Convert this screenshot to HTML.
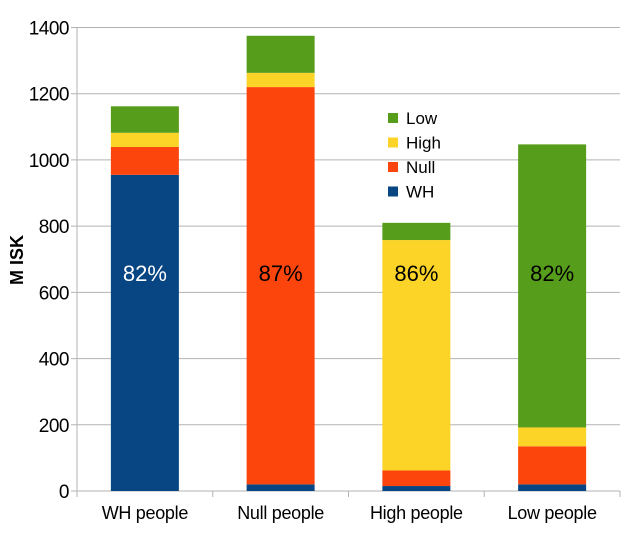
<!DOCTYPE html>
<html><head><meta charset="utf-8"><style>
body{margin:0;background:#fff;font-family:"Liberation Sans",sans-serif}
</style></head><body>
<svg id="c" width="632" height="529" xmlns="http://www.w3.org/2000/svg"></svg>
<script>
const categories=["WH people","Null people","High people","Low people"];
const seriesNames=["WH","Null","High","Low"];
const whVals=[955,20,15,20];
const nullVals=[84,1200,47,115];
const highVals=[43,43,696,57];
const lowVals=[80,112,52,855];
const pctLabels=["82%","87%","86%","82%"];
const yTicks=[0,200,400,600,800,1000,1200,1400];
const colors=["#074683","#fc440d","#fcd327","#579d1c"];
const S=document.getElementById('c'),NS="http://www.w3.org/2000/svg";
const x0=77,x1=620,y0=491,y1=27.5,ymax=1400;
const y=v=>y0-(v/ymax)*(y0-y1);
const bw=(x1-x0)/categories.length;
function mk(t,a,txt){const e=document.createElementNS(NS,t);for(const k in a)e.setAttribute(k,a[k]);if(txt!==undefined)e.textContent=txt;S.appendChild(e);return e;}
yTicks.forEach(t=>{
 let l=mk('line',{x1:x0-6,x2:x1,y1:y(t),y2:y(t),stroke:'#b3b3b3','stroke-width':1});
 
 
 let tx=mk('text',{x:x0-8,y:y(t)+7,'text-anchor':'end','font-size':19,'letter-spacing':'-0.5',fill:'#000'},t);
 
 
});
let ax=mk('line',{x1:x0,x2:x0,y1:y1,y2:y0+6,stroke:'#b3b3b3'});


for(let i=0;i<=categories.length;i++){
 let l=mk('line',{x1:x0+i*bw,x2:x0+i*bw,y1:y0,y2:y0+6,stroke:'#b3b3b3'});
 
 
}
const all=[whVals,nullVals,highVals,lowVals];
categories.forEach((c,i)=>{
 const cx=x0+bw*(i+.5);let acc=0;
 all.forEach((arr,s)=>{
  const r=mk('rect',{x:cx-34,y:y(acc+arr[i]),width:68,height:y(acc)-y(acc+arr[i]),fill:colors[s]});
  
  
  acc+=arr[i];
 });
 let t=mk('text',{x:cx,y:y0+28,'text-anchor':'middle','font-size':18,'letter-spacing':'-0.3'},c);
 
 
 let p=mk('text',{x:cx,y:281,'text-anchor':'middle','font-size':22,fill:i==0?'#fff':'#000'},pctLabels[i]);
 
 
});
let yt=mk('text',{x:23,y:260,'text-anchor':'middle','font-size':18,'font-weight':'bold',transform:'rotate(-90 23 260)'},'M ISK');


const legOrder=[3,2,1,0];
legOrder.forEach((s,k)=>{
 const ly=118+k*24.5;
 let r=mk('rect',{x:388,y:ly-5,width:10,height:10,fill:colors[s]});
 
 
 let t=mk('text',{x:406,y:ly+6,'font-size':17},seriesNames[s]);
 
 
});
</script>
</body></html>
